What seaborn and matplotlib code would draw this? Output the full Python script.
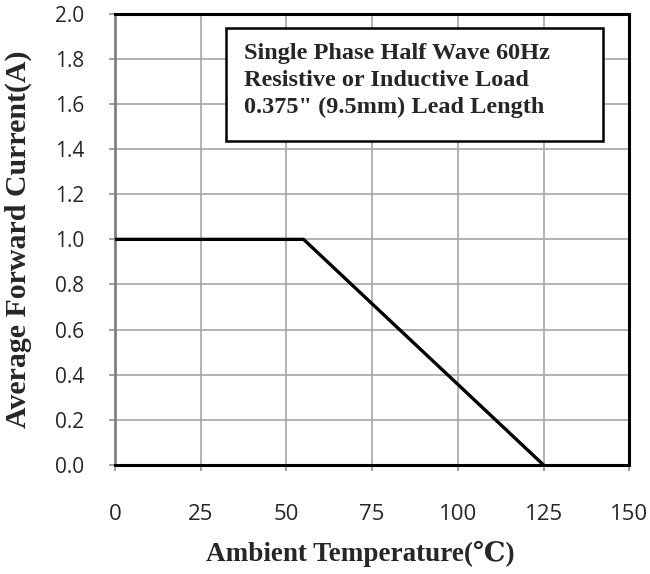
import pandas as pd
import matplotlib.pyplot as plt
from matplotlib.patches import Rectangle
import seaborn as sns

# Derating curve points
temperature = [0, 55, 125]
current = [1.0, 1.0, 0.0]

x_ticks = [0, 25, 50, 75, 100, 125, 150]
y_ticks = [0.0, 0.2, 0.4, 0.6, 0.8, 1.0, 1.2, 1.4, 1.6, 1.8, 2.0]

note_lines = ["Single Phase Half Wave 60Hz",
              "Resistive or Inductive Load",
              "0.375\" (9.5mm) Lead Length"]


def plot_data():
    sns.set_style("white")
    plt.rcParams['font.family'] = ['Open Sans', 'DejaVu Sans']

    df = pd.DataFrame({'Temperature': temperature, 'Current': current})

    fig = plt.figure(figsize=(6.5, 5.74), dpi=100)
    ax = fig.add_axes([0.177, 0.19, 0.791, 0.786])

    ax.grid(True, color='#a6a6a6', linewidth=1.2)
    ax.set_axisbelow(True)
    sns.lineplot(data=df, x='Temperature', y='Current', color='black',
                 linewidth=2.4, ax=ax, zorder=3)

    ax.set_xlim(0, 150)
    ax.set_ylim(0, 2.0)
    ax.set_xticks(x_ticks)
    ax.set_yticks(y_ticks)
    ax.set_xticklabels([str(t) for t in x_ticks])
    ax.set_yticklabels([f"{t:.1f}" for t in y_ticks])
    ax.tick_params(axis='x', labelsize=16, pad=24, direction='out',
                   length=4, width=1.2, color='#909090', bottom=True)
    ax.tick_params(axis='y', labelsize=15, pad=18, direction='out',
                   length=4, width=1.2, color='#909090', left=True)

    for side in ['top', 'right', 'bottom']:
        ax.spines[side].set_color('black')
        ax.spines[side].set_linewidth(2.2)
    ax.spines['left'].set_color('#808080')
    ax.spines['left'].set_linewidth(2.0)

    serif = ['Liberation Serif', 'DejaVu Serif']
    ax.set_xlabel('Ambient Temperature(\u2103)', fontsize=19.5, fontweight='bold',
                  family=serif)
    ax.set_ylabel('Average Forward Current(A)', fontsize=21.5, fontweight='bold',
                  family=serif)
    ax.xaxis.set_label_coords(0.477, -0.168)
    ax.yaxis.set_label_coords(-0.161, 0.5)

    # note box
    ax.add_patch(Rectangle((0.216, 0.718), 0.733, 0.251, transform=ax.transAxes,
                           facecolor='white', edgecolor='black', linewidth=1.8,
                           zorder=4))
    ax.text(0.251, 0.936, "\n".join(note_lines), transform=ax.transAxes,
            fontsize=17.5, fontweight='bold', family=serif, va='top', ha='left',
            linespacing=1.38, zorder=5)

    plt.savefig('out.png', dpi=100)


def main():
    plot_data()


if __name__ == "__main__":
    main()
